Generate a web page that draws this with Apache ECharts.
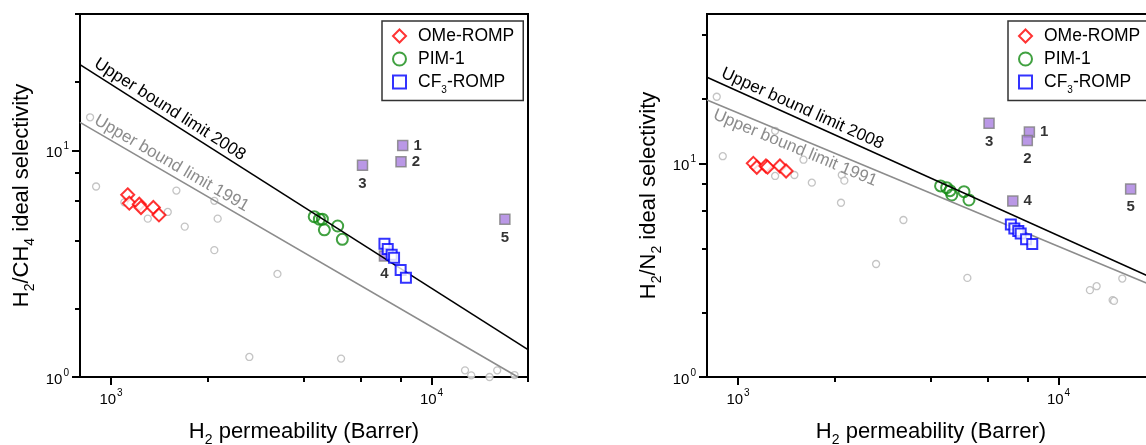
<!DOCTYPE html>
<html>
<head>
<meta charset="utf-8">
<script src="https://cdn.jsdelivr.net/npm/echarts@6/dist/echarts.min.js"></script>
<style>
html,body{margin:0;padding:0;background:#fff;}
#c{width:1146px;height:445px;}
</style>
</head>
<body>
<div id="c"></div>
<script>
// ---------- tick values ----------
const xMajorTicks = [1000, 10000];
const xMinorTicks = [2000, 4000, 6000, 8000, 20000];
const yMajorTicks = [1, 10];
const yMinorTicks = [2, 4, 6, 8, 20, 40];
const xRange = [800, 20000];
const yRangeCH4 = [1, 40];
const yRangeN2 = [1, 50];

// ---------- H2/CH4 panel ----------
const ch4GrayX = [860, 898, 1100, 1302, 1503, 1599, 1698, 2100, 2151, 2100, 3305, 2701, 5220, 12720, 13300, 15170, 16030, 18150];
const ch4GrayY = [14.0, 6.93, 5.9, 5.0, 5.35, 6.65, 4.61, 5.99, 5.0, 3.63, 2.85, 1.226, 1.206, 1.07, 1.017, 1.0, 1.07, 1.02];
const ch4OMeX = [1127, 1140, 1225, 1240, 1355, 1411];
const ch4OMeY = [6.37, 5.85, 5.79, 5.6, 5.6, 5.19];
const ch4PIMX = [4305, 4467, 4565, 4630, 5095, 5268];
const ch4PIMY = [5.1, 4.97, 4.97, 4.46, 4.64, 4.05];
const ch4CF3X = [7130, 7300, 7510, 7640, 8010, 8320];
const ch4CF3Y = [3.87, 3.67, 3.46, 3.36, 2.97, 2.74];
const ch4NumX = [8130, 8030, 6090, 7130, 16940];
const ch4NumY = [10.5, 8.91, 8.59, 3.42, 4.97];
const numNames = ['1', '2', '3', '4', '5'];
const ch4Bound2008X = [800, 20000];
const ch4Bound2008Y = [23.9, 1.32];
const ch4Bound1991X = [800, 18600];
const ch4Bound1991Y = [13.3, 1.0];

// ---------- H2/N2 panel ----------
const n2GrayX = [858, 1305, 896, 1600, 1305, 1499, 1699, 2107, 2146, 2095, 3281, 2696, 5194, 15810, 12530, 13150, 14750, 14900];
const n2GrayY = [20.5, 14.2, 10.8, 10.4, 8.73, 8.82, 8.12, 8.82, 8.3, 6.54, 5.43, 3.38, 2.91, 2.89, 2.55, 2.66, 2.29, 2.27];
const n2OMeX = [1116, 1144, 1222, 1236, 1351, 1412];
const n2OMeY = [10.0, 9.59, 9.72, 9.6, 9.72, 9.21];
const n2PIMX = [4285, 4475, 4586, 4645, 5070, 5255];
const n2PIMY = [7.84, 7.69, 7.45, 7.11, 7.37, 6.74];
const n2CF3X = [7100, 7280, 7490, 7620, 7920, 8280];
const n2CF3Y = [5.18, 4.96, 4.82, 4.70, 4.41, 4.19];
const n2NumX = [8110, 7990, 6070, 7200, 16790];
const n2NumY = [14.0, 12.8, 15.4, 6.66, 7.59];
const n2Bound2008X = [800, 20000];
const n2Bound2008Y = [25.3, 2.87];
const n2Bound1991X = [800, 20000];
const n2Bound1991Y = [19.8, 2.65];

const seriesNames = ['OMe-ROMP', 'PIM-1', 'CF3-ROMP'];
const yNameCH4 = ['H', '2', '/CH', '4', ' ideal selectivity'];
const yNameN2 = ['H', '2', '/N', '2', ' ideal selectivity'];
const boundLabels = ['Upper bound limit 2008', 'Upper bound limit 1991'];

// ---------- helpers ----------
const FONT = 'Liberation Sans, Arial, sans-serif';
const zip = (xs, ys) => xs.map((x, i) => [x, ys[i]]);

function supLabel(v) {
  return '{b|10}{s|' + Math.round(Math.log10(v)) + '}';
}
const supRich = {
  b: { fontSize: 15, fontFamily: FONT, color: '#000', lineHeight: 20, verticalAlign: 'bottom' },
  s: { fontSize: 10, fontFamily: FONT, color: '#000', lineHeight: 20, verticalAlign: 'top', padding: [1, 0, 0, 1] }
};
const nameRich = {
  a: { fontSize: 22, fontFamily: FONT, color: '#000', lineHeight: 30, verticalAlign: 'middle' },
  s: { fontSize: 14, fontFamily: FONT, color: '#000', lineHeight: 30, verticalAlign: 'bottom' }
};

function xAxes(gridIndex) {
  return [
    {
      type: 'log', gridIndex, position: 'bottom', min: xRange[0], max: xRange[1], logBase: 10,
      name: '{a|H}{s|2}{a| permeability (Barrer)}', nameLocation: 'middle', nameGap: 40,
      nameTextStyle: { rich: nameRich },
      axisLine: { show: true, lineStyle: { color: '#000', width: 2 } },
      axisTick: { show: true, inside: false, length: 8, lineStyle: { color: '#000', width: 2 }, customValues: xMajorTicks },
      axisLabel: { show: true, margin: 10, customValues: xMajorTicks, formatter: supLabel, rich: supRich },
      splitLine: { show: false }, minorTick: { show: false }
    },
    {
      type: 'log', gridIndex, position: 'bottom', offset: 0, min: xRange[0], max: xRange[1], logBase: 10,
      axisLine: { show: false },
      axisTick: { show: true, inside: false, length: 5, lineStyle: { color: '#000', width: 2 }, customValues: xMinorTicks },
      axisLabel: { show: false },
      splitLine: { show: false }
    }
  ];
}
function yAxes(gridIndex, range, nameParts) {
  return [
    {
      type: 'log', gridIndex, position: 'left', min: range[0], max: range[1], logBase: 10,
      name: '{a|' + nameParts[0] + '}{s|' + nameParts[1] + '}{a|' + nameParts[2] + '}{s|' + nameParts[3] + '}{a|' + nameParts[4] + '}',
      nameLocation: 'middle', nameGap: 43, nameRotate: 90,
      nameTextStyle: { rich: nameRich },
      axisLine: { show: true, lineStyle: { color: '#000', width: 2 } },
      axisTick: { show: true, inside: false, length: 8, lineStyle: { color: '#000', width: 2 }, customValues: yMajorTicks },
      axisLabel: { show: true, margin: 11, customValues: yMajorTicks, formatter: supLabel, rich: supRich },
      splitLine: { show: false }
    },
    {
      type: 'log', gridIndex, position: 'left', offset: 0, min: range[0], max: range[1], logBase: 10,
      axisLine: { show: false },
      axisTick: { show: true, inside: false, length: 5, lineStyle: { color: '#000', width: 2 }, customValues: yMinorTicks },
      axisLabel: { show: false },
      splitLine: { show: false }
    }
  ];
}

function boundSeries(xi, yi, xs, ys, label, color, pos) {
  return {
    type: 'line', xAxisIndex: xi, yAxisIndex: yi, data: [], silent: true, z: 2,
    markLine: {
      silent: true, symbol: ['none', 'none'], animation: false,
      lineStyle: { color, width: 1.6, type: 'solid' },
      label: { show: true, formatter: label, position: pos, color, fontSize: 17, fontFamily: FONT, distance: [12, 2] },
      emphasis: { disabled: true },
      data: [[{ coord: [xs[0], ys[0]] }, { coord: [xs[1], ys[1]] }]]
    }
  };
}

function panelSeries(xi, yi, d) {
  return [
    {
      type: 'scatter', xAxisIndex: xi, yAxisIndex: yi, symbol: 'circle', symbolSize: 7, z: 1, silent: true,
      itemStyle: { color: '#fff', borderColor: '#b5b5b5', borderWidth: 1.3 },
      data: zip(d.grayX, d.grayY)
    },
    boundSeries(xi, yi, d.b08x, d.b08y, boundLabels[0], '#000', 'insideStartTop'),
    boundSeries(xi, yi, d.b91x, d.b91y, boundLabels[1], '#8c8c8c', d.pos91),
    {
      type: 'scatter', xAxisIndex: xi, yAxisIndex: yi, symbol: 'rect', symbolSize: 10, z: 3, silent: true,
      itemStyle: { color: '#a97ee0', borderColor: '#7d7d7d', borderWidth: 1.5 },
      data: d.numX.map((x, i) => ({
        value: [x, d.numY[i]], name: numNames[i],
        label: { show: true, position: d.numPos[i], distance: 5, formatter: '{b}', fontSize: 15, fontWeight: 'bold', color: '#000', fontFamily: FONT }
      }))
    },
    {
      name: seriesNames[0], type: 'scatter', xAxisIndex: xi, yAxisIndex: yi, symbol: 'diamond', symbolSize: 13, z: 4, silent: true,
      itemStyle: { color: '#fff', borderColor: '#ff0000', borderWidth: 2 },
      data: zip(d.omeX, d.omeY)
    },
    {
      name: seriesNames[1], type: 'scatter', xAxisIndex: xi, yAxisIndex: yi, symbol: 'circle', symbolSize: 11, z: 4, silent: true,
      itemStyle: { color: 'rgba(255,255,255,0)', borderColor: '#118a11', borderWidth: 2 },
      data: zip(d.pimX, d.pimY)
    },
    {
      name: seriesNames[2], type: 'scatter', xAxisIndex: xi, yAxisIndex: yi, symbol: 'rect', symbolSize: 10, z: 5, silent: true,
      itemStyle: { color: '#fff', borderColor: '#0000ff', borderWidth: 2 },
      data: zip(d.cfX, d.cfY)
    }
  ];
}

function legend(left) {
  return {
    orient: 'vertical', left, top: 21, padding: [6, 9, 5, 10], itemGap: 5,
    itemWidth: 13, itemHeight: 13, selectedMode: false,
    borderColor: '#333', borderWidth: 1.5, backgroundColor: '#fff',
    data: seriesNames.slice(),
    formatter: n => n === 'CF3-ROMP' ? '{g| }{t|CF}{s|3}{t|-ROMP}' : '{g| }{t|' + n + '}',
    textStyle: {
      rich: {
        g: { width: 7, fontSize: 10, lineHeight: 17 },
        t: { fontSize: 17.5, fontFamily: FONT, color: '#000', lineHeight: 17 },
        s: { fontSize: 10, fontFamily: FONT, color: '#000', lineHeight: 17, verticalAlign: 'bottom', padding: [0, 0, -5, 0] }
      }
    }
  };
}

const ch4 = {
  grayX: ch4GrayX, grayY: ch4GrayY, omeX: ch4OMeX, omeY: ch4OMeY, pimX: ch4PIMX, pimY: ch4PIMY,
  cfX: ch4CF3X, cfY: ch4CF3Y, numX: ch4NumX, numY: ch4NumY, numPos: ['right', 'right', 'bottom', 'bottom', 'bottom'],
  b08x: ch4Bound2008X, b08y: ch4Bound2008Y, b91x: ch4Bound1991X, b91y: ch4Bound1991Y, pos91: 'insideStartTop'
};
const n2 = {
  grayX: n2GrayX, grayY: n2GrayY, omeX: n2OMeX, omeY: n2OMeY, pimX: n2PIMX, pimY: n2PIMY,
  cfX: n2CF3X, cfY: n2CF3Y, numX: n2NumX, numY: n2NumY, numPos: ['right', 'bottom', 'bottom', 'right', 'bottom'],
  b08x: n2Bound2008X, b08y: n2Bound2008Y, b91x: n2Bound1991X, b91y: n2Bound1991Y, pos91: 'insideStartBottom'
};

const chart = echarts.init(document.getElementById('c'), null, { renderer: 'canvas' });
chart.setOption({
  animation: false,
  backgroundColor: '#fff',
  textStyle: { fontFamily: FONT },
  grid: [
    { left: 80, top: 14, width: 448, height: 363, show: true, borderColor: '#000', borderWidth: 2, backgroundColor: 'transparent', containLabel: false, outerBoundsMode: 'none' },
    { left: 707, top: 14, width: 448, height: 363, show: true, borderColor: '#000', borderWidth: 2, backgroundColor: 'transparent', containLabel: false, outerBoundsMode: 'none' }
  ],
  xAxis: [...xAxes(0), ...xAxes(1)],
  yAxis: [...yAxes(0, yRangeCH4, yNameCH4), ...yAxes(1, yRangeN2, yNameN2)],
  legend: [legend(382), legend(1008)],
  series: [...panelSeries(0, 0, ch4), ...panelSeries(2, 2, n2)]
});
</script>
</body>
</html>
